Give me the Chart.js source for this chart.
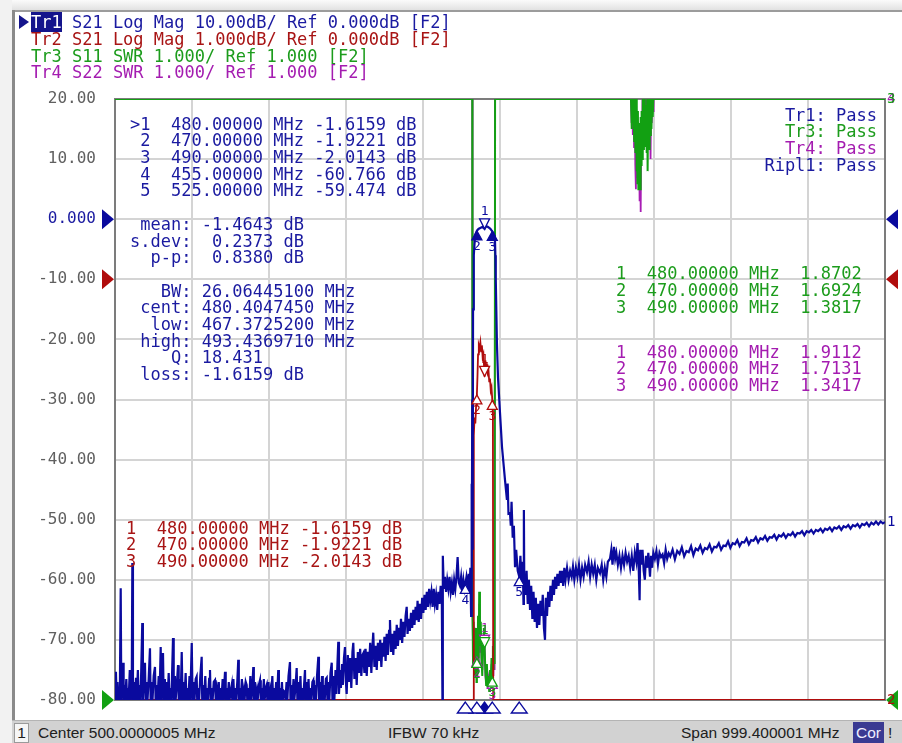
<!DOCTYPE html>
<html>
<head>
<meta charset="utf-8">
<title>S21 / SWR sweep</title>
<script src="https://cdn.jsdelivr.net/npm/chart.js@4.4.1/dist/chart.umd.min.js"></script>
<style>
  html, body { margin: 0; padding: 0; background: #fff; }
  body { width: 902px; height: 743px; position: relative; overflow: hidden; font-family: "DejaVu Sans Mono", monospace; }
  #plot { position: absolute; left: 0; top: 0; }
  .shade-top { position: absolute; left: 0; top: 0; width: 902px; height: 10px; background: linear-gradient(#fbfbfb, #e2e2e2); }
  .shade-left { position: absolute; left: 0; top: 0; width: 12px; height: 743px; background: #f2f2f2; }
  .edge-top { position: absolute; left: 12px; top: 10px; width: 890px; height: 2px; background: #9c9c9c; }
  .edge-left { position: absolute; left: 12px; top: 10px; width: 3px; height: 733px; background: #8a8a8a; }
  .txt { position: absolute; font-size: 17px; line-height: 16.7px; white-space: pre; }
  .blue { color: #1a1aa0; }
  .red { color: #a81414; }
  .green { color: #1c9c1c; }
  .magenta { color: #a41cb0; }
  .tag { background: #14148c; color: #fff; }
  .arrow { position: absolute; left: 19px; top: 15px; width: 0; height: 0;
           border-left: 10px solid #14148c; border-top: 7px solid transparent; border-bottom: 7px solid transparent; }
  .status { position: absolute; left: 12px; top: 720px; width: 890px; height: 23px; background: #d2d2d2; border-top: 1px solid #b4b4b4;
            font-family: "Liberation Sans", Arial, sans-serif; font-size: 15.5px; color: #202020; }
  .status span { position: absolute; top: 3px; white-space: pre; }
  .chan { position: absolute; left: 2px; top: 2px; width: 13px; height: 18px; background: #f6f6f6; border: 1px solid #9a9a9a;
          text-align: center; line-height: 18px; }
  .cor { position: absolute; left: 841px; top: 1px; width: 31px; height: 21px; background: #3a3a92; color: #eef;
         text-align: center; line-height: 21px; }
</style>
</head>
<body>
<div class="shade-top"></div>
<div class="shade-left"></div>
<canvas id="plot" width="902" height="743"></canvas>
<div class="edge-top"></div>
<div class="edge-left"></div>

<div class="arrow"></div>
<div class="txt" style="left:31px; top:14px; line-height:16.8px;"><span class="blue"><span class="tag">Tr1</span> S21 Log Mag 10.00dB/ Ref 0.000dB [F2]</span>
<span class="red">Tr2 S21 Log Mag 1.000dB/ Ref 0.000dB [F2]</span>
<span class="green">Tr3 S11 SWR 1.000/ Ref 1.000 [F2]</span>
<span class="magenta">Tr4 S22 SWR 1.000/ Ref 1.000 [F2]</span></div>

<div class="txt blue" id="tr1Table" style="left:130px; top:115.6px;"></div>
<div class="txt red" id="tr2Table" style="left:126px; top:519.6px;"></div>
<div class="txt green" id="tr3Table" style="left:616px; top:264.6px; line-height:17px;"></div>
<div class="txt magenta" id="tr4Table" style="left:616px; top:343.6px; line-height:16.6px;"></div>
<div class="txt" id="limits" style="right:25px; top:106.6px; text-align:right;"></div>

<div class="status">
  <div class="chan">1</div>
  <span style="left:26px;">Center 500.0000005 MHz</span>
  <span style="left:376px;">IFBW 70 kHz</span>
  <span style="left:669px;">Span 999.400001 MHz</span>
  <div class="cor">Cor</div>
  <span style="left:876px;">!</span>
</div>

<script>
const BLUE = "#0a0a9e";
const RED = "#b00c0c";
const GREEN = "#12a012";
const MAGENTA = "#a81cb4";
const GRID = "#d4d4d4";

// sweep: 0.3 .. 999.7 MHz, 10 divisions
const freqStart = 0.3;
const freqStop = 999.7;
const freqGrid = [0.3, 100.24, 200.18, 300.12, 400.06, 500.0, 599.94, 699.88, 799.82, 899.76, 999.7];
const dbTicks = [-80, -70, -60, -50, -40, -30, -20, -10, 0, 10, 20];
const dbTickLabels = ["-80.00", "-70.00", "-60.00", "-50.00", "-40.00", "-30.00", "-20.00", "-10.00", "0.000", "10.00", "20.00"];

// Tr1 S21 log mag [MHz, dB] (values under -80 sit on the bottom line)
const tr1 = [
  [0.3,-80],[1.5,-75.3],[2.5,-80],[3.5,-77],[4.5,-80],[5.5,-78],[6.5,-80],[7.7,-61.4],[8.5,-80],[9.5,-76],[10.7,-73.8],[11.5,-80],
  [12.5,-77.5],[13.5,-80],[15,-76.5],[16,-80],[17,-78],[18,-80],[19.5,-75],[20.5,-80],[22,-79],[22.8,-57.2],[23.6,-80],[25,-77],
  [26,-80],[27.6,-76.3],[28.5,-80],[30,-75],[31,-80],[32.5,-77.5],[33.5,-80],[35.7,-67.2],[36.5,-80],[38,-76],[39.2,-73.8],[40,-80],
  [41.5,-77],[42.5,-80],[44,-76.5],[45.7,-71.4],[46.5,-80],[48,-77],[49,-80],[50.5,-76],[52.2,-74.5],[53,-80],[54.5,-77.5],[55.5,-80],
  [57,-76],[58,-80],[59.6,-71.2],[60.5,-80],[62.6,-72.2],[63.5,-80],[65,-76.5],[66,-80],[67.5,-77],[68.5,-80],[70,-75.5],[71,-80],
  [72.5,-78],[73.5,-80],[75.6,-69.7],[76.5,-80],[78,-76],[79,-80],[80.5,-77.5],[82.1,-74.2],[83,-80],[84.5,-76.5],[85.5,-80],[86.9,-72],
  [88,-80],[89.5,-77],[90.5,-80],[92,-75.5],[93,-80],[94.5,-78],[95.5,-80],[97,-76],[98,-80],[99.9,-70.5],[101,-80],[102.5,-77],
  [103.5,-80],[105,-76.5],[106.3,-76.1],[107,-80],[108.5,-78],[109.5,-80],[111,-76],[112.8,-72.8],[113.5,-80],[115,-77.5],[116,-80],
  [117.5,-76],[118.5,-80],[120,-78],[121,-80],[122.5,-76.5],[123.6,-75],[124.5,-80],[126,-78],[127,-80],[128.5,-77],[130.1,-76.7],
  [131,-80],[132.5,-78.5],[133.5,-80],[135,-77],[136,-80],[137.5,-78],[138.5,-80],[140,-76.5],[141,-80],[143.1,-75.3],[144,-80],
  [145.5,-78],[146.5,-80],[148,-77],[149,-80],[150.5,-78.5],[151.8,-77.5],[152.5,-80],[154,-76.5],[155,-80],[156.5,-78],[157.5,-80],
  [159,-77],[160.3,-73.3],[161,-80],[162.5,-78],[163.5,-80],[165,-76.5],[166,-80],[167.5,-78.5],[168.5,-80],[170,-77],[171.2,-77.5],
  [172,-80],[173.5,-78],[174.5,-80],[176,-76],[177,-80],[178.5,-78],[179.8,-74.5],[180.5,-80],[182,-77],[183,-80],[184.5,-78.5],
  [185.5,-80],[187,-77.5],[188.5,-76.7],[189.5,-80],[191,-78],[192,-80],[193.5,-76.5],[194.5,-80],[196,-78],[197.2,-77.5],[198,-80],
  [199.5,-77],[200.5,-80],[202,-78.5],[203,-80],[204.5,-76],[205.5,-80],[207,-78],[208,-80],[209.5,-77],[210.5,-80],[212.2,-75],
  [213,-80],[214.5,-78],[215.5,-80],[217,-77],[218,-80],[219.5,-78.5],[220.9,-78.7],[221.5,-80],[223,-77],[224,-80],[225.5,-76],
  [227.4,-73.7],[228,-80],[229.5,-77.5],[230.5,-80],[232,-76.5],[233,-80],[234.5,-78],[236.1,-74.7],[237,-80],[238.5,-77],[239.5,-80],
  [241,-76],[242,-80],[243.5,-78],[244.5,-80],[246.9,-75],[247.5,-80],[249,-77],[250,-80],[251.5,-76.5],[252.5,-80],[254,-78],
  [255,-80],[256.5,-77],[257.7,-76.7],[258.5,-80],[260,-77.5],[261,-80],[262.5,-76],[264.2,-72.8],[265,-80],[266.5,-77],[267.5,-80],
  [269,-76],[270,-80],[271.5,-77.5],[272.5,-80],[274,-76.5],[275.1,-76.3],[276,-80],[277.5,-77],[278.5,-80],[280,-75.5],[281.6,-73.8],
  [282.5,-80],[284,-76],[285,-80],[286.5,-75],[287.5,-79],[289,-74],[290.1,-70.3],[291,-79],[292.5,-75],[293.5,-78],[295,-74],
  [296,-77.5],[297.5,-73],[298.8,-71.2],[300,-77],
  [301,-79],[302.5,-72.5],[304,-77],[305.5,-73],[307,-78],[308.5,-72],[309.6,-70.5],[311,-76.5],[312.5,-73],[314,-77.5],[315.5,-72],
  [317,-75.5],[318.5,-71.5],[320,-76],[321.5,-72.5],[322.6,-72.2],[324,-75.5],[325.5,-71.5],[327,-76],[328.5,-72],[330,-74.5],
  [331.5,-70.5],[333,-75.5],[334.5,-71],[335.5,-68.8],[337,-74.5],[338.5,-71],[340,-75],[341.5,-70.5],[343,-73.5],[344.5,-70],
  [346,-74.5],[347.5,-70.5],[348.5,-72.8],[350,-69.5],[351.5,-73.5],[353,-69],[354.5,-72.5],[356,-68.5],[357.2,-66.7],[358.5,-72],
  [360,-69],[361.5,-72.5],[363,-68.5],[364.5,-71.5],[366,-67.5],[367.5,-71],[369,-68],[370.2,-70],[371.5,-66.5],[373,-70.5],
  [374.5,-67],[376,-69.5],[377.5,-66],[378.9,-64.5],[380,-69],[381.5,-66.5],[383,-68.5],[384.5,-65.5],[386,-68],[387.5,-65],
  [389,-67.5],[390.5,-64.5],[391.9,-66.7],[393,-63.5],[394.5,-67],[396,-64],[397.5,-66.5],[399,-63],[400.5,-65.5],[402,-62.5],
  [403.5,-65],[405,-62],[406.5,-64.5],[408,-61.5],[409.5,-63.5],[411,-62],[412.5,-64.5],[414,-61.5],[415.5,-64],[417,-62.5],
  [418.5,-65],[420,-62],[421.5,-64],[423,-61],[424.5,-63.5],[425.3,-80],[425.8,-56],[427,-61.5],[428.5,-59.5],[430,-62],
  [431.5,-60],[433,-61.5],[434.5,-59.5],[436,-62],[437.5,-60.5],[439,-62.5],[440.5,-60],[442,-61.5],[443.5,-59.5],[445,-56.2],
  [446.5,-60.5],[448,-61],[449.5,-59.5],[451,-62],[452.5,-60],[454,-61.5],[455,-60.8],[456.5,-59.5],[458,-61],[459.5,-59],
  [460.5,-62],[461.5,-58],[462.5,-66],[463,-44],[463.5,-62],[464,-30],[464.5,-55],[465,-15],[466,-6],[467.4,-3.1],
  [468.5,-2.4],[470,-1.92],[471.5,-1.7],[473,-1.55],[474.5,-1.45],[476,-1.35],[477.5,-1.3],[479,-1.5],[480,-1.62],[481.5,-1.25],
  [483,-1.2],[484.5,-1.3],[486,-1.45],[487.5,-1.6],[489,-1.85],[490,-2.01],[491.5,-2.3],[492.5,-2.7],[493.4,-3.1],[494,-6],
  [494.5,-10],[496,-20.6],[497.4,-26.3],[500,-32.2],[502.6,-37.9],[506.5,-43.4],[509,-46.7],[510,-44],[511,-49],[513,-48.9],
  [514,-51],[515,-47],[516.5,-53],[518,-51],[519.5,-57.9],[521,-55],[523,-58.5],[525,-59.47],[526.5,-56],[528,-61],[529.5,-57],
  [530.5,-64],[531,-48.4],[531.5,-60],[533,-62.5],[534.5,-58.5],[536,-64],[537.5,-60],[539,-65],[540.5,-61],[542,-66.5],
  [543.5,-62],[545,-67],[546.5,-63],[548,-68],[549.5,-64],[551,-67.5],[552.5,-63.5],[554,-66],[555.5,-62.5],[557,-68],[558.4,-70],
  [559.5,-63],[561,-66],[562.5,-62],[564,-64.5],[565.5,-61],[567,-63.5],[568.8,-60],[570,-62.5],[571.5,-59.5],[573,-61.5],
  [574.5,-59],[576,-61],[577.9,-58.5],[579,-60.5],[580.5,-58.5],[582,-61],[583.5,-58],[585,-60],[587,-58],[589,-60],[591,-58.5],
  [593,-59.5],[594.7,-57.8],[596.5,-60],[598.5,-58],[600.5,-59.5],[602.5,-57.5],[604.5,-60],[606.5,-58],[608.5,-59.5],[610.5,-57.5],
  [612.9,-58.7],[615,-57],[617,-59.5],[619,-57.5],[621,-59],[623,-57.5],[625,-60],[627,-58],[629.8,-58.9],[632,-57.5],[634,-60],
  [636,-58],[638,-59.5],[640,-57],[642.8,-56.5],[644.5,-55],[646,-57.5],[648,-54.5],[649.5,-56.5],[651,-55.5],[653,-57.5],[655,-56],
  [657,-58],[659,-56],[661,-57.5],[663,-55.5],[665,-57],[667,-56],[669,-58],[671,-56],[673,-58.5],[675,-55.5],[677,-57],[678.5,-53.9],
  [680,-58],[681.2,-63.4],[682,-55],[683.5,-57.5],[685,-55],[686.5,-58.5],[688,-60],[689.5,-56],[691,-58],[692.5,-55.5],[694.7,-59.5],
  [696,-56],[697.5,-58],[699,-55.5],[701,-56.5],[703,-55.2],[705,-57.4],[707,-55.5],[709,-56.2],[711,-55.8],[713,-57.2],[715,-55],
  [717,-56.5],[719,-55.6],[721,-56.1],[724,-55],[727,-56.6],[730,-55.2],[733,-55.7],[736,-54.6],[739,-56.1],[742,-55.2],[745,-55.4],
  [748,-54.4],[751,-55.9],[754,-54.8],[757,-55.1],[760,-54.3],[763,-55.5],[766,-54.7],[769,-54.9],[772,-54.1],[775,-55.3],[778,-54.5],
  [781,-54.6],[784,-53.9],[787,-55],[790,-54.3],[793,-54.4],[796,-53.6],[799,-54.7],[802,-53.9],[805,-54.1],[808,-53.4],[811,-54.4],
  [814,-53.7],[817,-53.8],[820,-53.1],[823,-54.1],[826,-53.4],[829,-53.5],[832,-52.9],[835,-53.8],[838,-53.1],[841,-53.3],[844,-52.7],
  [847,-53.5],[850,-52.9],[853,-53],[856,-52.5],[859,-53.3],[862,-52.6],[865,-52.8],[868,-52.3],[871,-53],[874,-52.4],[877,-52.6],
  [880,-52.1],[883,-52.8],[886,-52.2],[889,-52.3],[892,-51.9],[895,-52.6],[898,-51.9],[901,-52.1],[904,-51.7],[907,-52.3],[910,-51.7],
  [913,-51.9],[916,-51.5],[919,-52.1],[922,-51.5],[925,-51.7],[928,-51.3],[931,-51.9],[934,-51.3],[937,-51.5],[940,-51.1],[943,-51.7],
  [946,-51.1],[949,-51.3],[952,-50.9],[955,-51.5],[958,-50.9],[961,-51.1],[964,-50.7],[967,-51.3],[970,-50.7],[973,-50.9],[976,-50.5],
  [979,-51.1],[982,-50.5],[985,-50.8],[988,-50.3],[991,-50.8],[994,-50.3],[997,-50.6],[999.7,-50.4]
];

// Tr2 S21 log mag, 1 dB/div [MHz, dB] (bottom of its scale is -7 dB)
const tr2 = [
  [0.3,-7],[465.5,-7],[466,-2.6],[467,-2.3],[468,-2.4],[469,-2.1],[470,-1.92],[470.8,-1.6],[471.5,-1.25],[472.5,-1.1],
  [473.5,-1.15],[474.5,-1.05],[475.5,-1.2],[476.5,-1.1],[477.5,-1.3],[478.5,-1.25],[479.3,-1.45],[480,-1.62],[481,-1.35],
  [482,-1.45],[483,-1.4],[484,-1.55],[485,-1.5],[486,-1.7],[487,-1.65],[488,-1.85],[489,-1.8],[490,-2.01],[490.8,-2.3],
  [491.2,-7],[999.7,-7]
];

// Tr3 S11 SWR [MHz, SWR] (top of its scale is 11)
const tr3 = [
  [0.3,11],[464,11],[464.3,2.6],[465,1.6],[465.8,2.3],[466.5,1.4],[467.3,2.0],[468,1.5],[468.8,2.2],[469.5,1.3],[470,1.69],
  [470.8,1.5],[471.5,2.4],[472.3,1.6],[473,2.8],[474,1.9],[475,2.3],[476,1.7],[477,1.4],[478,1.9],[479,2.2],[480,1.87],[481,1.5],
  [482,1.25],[483,1.6],[484,1.2],[485,1.4],[486,1.15],[487,1.5],[488,1.3],[489,1.7],[490,1.38],[490.8,1.9],[491.5,1.5],[492.3,2.1],
  [493,1.6],[493.6,11],
  [670,11],[671,10.5],[671.8,11],[672.6,10.6],[673.4,11],[674.2,10.3],[675,11],[675.8,10.1],[676.6,11],[677.2,9.8],[677.8,10.9],
  [678.4,9.6],[679,10.8],[679.6,9.5],[680.2,10.6],[680.8,9.6],[681.4,10.4],[682,9.5],[682.6,10.7],[683.2,9.9],[683.8,10.8],
  [684.4,10],[685,11],[685.6,10.2],[686.2,11],[686.8,10.15],[687.4,11],[688,10.2],[688.6,10.9],[689.2,10.3],[689.8,10.8],
  [690.4,10.1],[691,11],[691.6,9.8],[692.2,10.8],[692.8,10.2],[693.4,11],[694,10.15],[694.6,11],[695.2,10.4],[695.8,11],
  [696.6,10.5],[697.4,11],[698.2,10.7],[699,11],[999.7,11]
];

// Tr4 S22 SWR [MHz, SWR]
const tr4 = [
  [0.3,11],[464,11],[464.4,2.4],[465.2,1.7],[466,2.1],[466.8,1.5],[467.6,2.2],[468.4,1.4],[469.2,2.0],[470,1.71],[470.8,1.4],
  [471.6,2.2],[472.4,1.7],[473.2,2.6],[474.2,1.8],[475.2,2.1],[476.2,1.6],[477.2,1.5],[478.2,2.0],[479.2,2.1],[480,1.91],[481,1.4],
  [482,1.3],[483,1.5],[484,1.25],[485,1.35],[486,1.2],[487,1.45],[488,1.25],[489,1.6],[490,1.34],[490.8,1.8],[491.5,1.4],
  [492.3,2.0],[493,1.5],[493.6,11],
  [670,11],[670.8,10.6],[671.6,11],[672.4,10.4],[673.2,11],[674,10.2],[674.8,11],[675.6,9.9],[676.4,9.5],[677.2,10.8],[678,9.7],
  [678.8,10.6],[679.6,9.6],[680.4,10.5],[681.2,9.3],[682,10.2],[682.6,9.12],[683.4,10.6],[684.2,10],[685,11],[685.8,10.3],
  [686.6,11],[687.4,10.4],[688.2,11],[689,10.5],[689.8,11],[690.6,10.3],[691.4,11],[692.2,10.2],[693,10.9],[693.8,10.4],
  [694.6,11],[695.4,10.0],[696.2,11],[697,10.6],[697.8,11],[698.6,10.8],[699.4,11],[999.7,11]
];

// markers
const markerFreqs = [480, 470, 490, 455, 525];
const tr1MarkerDb = [-1.6159, -1.9221, -2.0143, -60.766, -59.474];
const tr2MarkerDb = [-1.6159, -1.9221, -2.0143];
const tr3MarkerSwr = [1.8702, 1.6924, 1.3817];
const tr4MarkerSwr = [1.9112, 1.7131, 1.3417];

const tr1Stats = [
  " mean: -1.4643 dB",
  "s.dev:  0.2373 dB",
  "  p-p:  0.8380 dB",
  "",
  "   BW: 26.06445100 MHz",
  " cent: 480.4047450 MHz",
  "  low: 467.3725200 MHz",
  " high: 493.4369710 MHz",
  "    Q: 18.431",
  " loss: -1.6159 dB",
];
const limitTests = ["Tr1: Pass", "Tr3: Pass", "Tr4: Pass", "Ripl1: Pass"];
const limitColors = ["blue", "green", "magenta", "blue"];

// marker tables
function markerRow(i, active, v, unit) {
  const head = active ? (i === 0 ? ">" : " ") : "";
  const val = v < 0 ? v.toPrecision(5) : " " + v.toPrecision(5);
  return `${head}${i + 1}  ${markerFreqs[i].toFixed(5)} MHz ${val}${unit}`;
}
document.getElementById("tr1Table").textContent =
  tr1MarkerDb.map((v, i) => markerRow(i, true, v, " dB")).concat([""], tr1Stats).join("\n");
document.getElementById("tr2Table").textContent = tr2MarkerDb.map((v, i) => markerRow(i, false, v, " dB")).join("\n");
document.getElementById("tr3Table").textContent = tr3MarkerSwr.map((v, i) => markerRow(i, false, v, "")).join("\n");
document.getElementById("tr4Table").textContent = tr4MarkerSwr.map((v, i) => markerRow(i, false, v, "")).join("\n");
document.getElementById("limits").innerHTML =
  limitTests.map((t, i) => `<span class="${limitColors[i]}">${t}</span>`).join("\n");

function toXY(points) {
  return points.map(([x, y]) => ({ x, y }));
}

function triangle(ctx, x, tipY, dir, half, h, color, filled) {
  // dir 1: pointing down (tip at bottom), -1: pointing up
  ctx.beginPath();
  ctx.moveTo(x, tipY);
  ctx.lineTo(x - half, tipY - dir * h);
  ctx.lineTo(x + half, tipY - dir * h);
  ctx.closePath();
  ctx.fillStyle = filled ? color : "#fff";
  ctx.fill();
  ctx.strokeStyle = color;
  ctx.lineWidth = 1.3;
  ctx.stroke();
}

function sideArrow(ctx, x, y, dir, color) {
  // dir 1: points right, -1: points left
  ctx.beginPath();
  ctx.moveTo(x, y);
  ctx.lineTo(x - dir * 12, y - 10);
  ctx.lineTo(x - dir * 12, y + 10);
  ctx.closePath();
  ctx.fillStyle = color;
  ctx.fill();
}

const framePlugin = {
  id: "frame",
  beforeDatasetsDraw(chart) {
    const { ctx, chartArea: a } = chart;
    ctx.save();
    ctx.strokeStyle = "#7c7c7c";
    ctx.lineWidth = 2;
    ctx.strokeRect(a.left, a.top, a.right - a.left, a.bottom - a.top);
    ctx.restore();
  },
};

const markerPlugin = {
  id: "markers",
  afterDatasetsDraw(chart) {
    const { ctx, chartArea: a, scales } = chart;
    const fx = (f) => scales.x.getPixelForValue(f);
    ctx.save();
    ctx.font = "13px 'DejaVu Sans Mono'";
    ctx.textAlign = "center";
    ctx.textBaseline = "middle";

    const sets = [
      { vals: tr4MarkerSwr, axis: "y3", color: MAGENTA },
      { vals: tr3MarkerSwr, axis: "y3", color: GREEN },
      { vals: tr2MarkerDb, axis: "y2", color: RED },
      { vals: tr1MarkerDb, axis: "y", color: BLUE },
    ];
    for (const s of sets) {
      s.vals.forEach((v, i) => {
        const x = fx(markerFreqs[i]);
        const y = scales[s.axis].getPixelForValue(v);
        if (i === 0) {
          triangle(ctx, x, y, 1, 5, 10, s.color, false);
          ctx.fillStyle = s.color;
          ctx.fillText(String(i + 1), x, y - 17);
        } else {
          triangle(ctx, x, y, -1, 5, 9, s.color, s.axis === "y" && i < 3);
          ctx.fillStyle = s.color;
          ctx.fillText(String(i + 1), x, y + 16);
        }
      });
    }

    // stimulus markers under the grid
    markerFreqs.forEach((f, i) => {
      triangle(ctx, fx(f), a.bottom + 2, -1, 8, 11, BLUE, i === 0);
    });

    // reference position arrows
    const refs = [
      { y: scales.y.getPixelForValue(0), color: BLUE },
      { y: scales.y2.getPixelForValue(0), color: RED },
      { y: scales.y3.getPixelForValue(1), color: GREEN },
    ];
    for (const r of refs) {
      sideArrow(ctx, a.left - 1, r.y, 1, r.color);
      sideArrow(ctx, a.right + 1, r.y, -1, r.color);
    }

    // trace numbers at the right edge
    ctx.font = "14px 'DejaVu Sans Mono'";
    ctx.textAlign = "left";
    const ends = [
      { pts: tr4, axis: "y3", color: MAGENTA, n: "4" },
      { pts: tr3, axis: "y3", color: GREEN, n: "3" },
      { pts: tr2, axis: "y2", color: RED, n: "2" },
      { pts: tr1, axis: "y", color: BLUE, n: "1" },
    ];
    for (const e of ends) {
      const last = e.pts[e.pts.length - 1][1];
      ctx.fillStyle = e.color;
      ctx.fillText(e.n, a.right + 2, scales[e.axis].getPixelForValue(last));
    }
    ctx.restore();
  },
};

function traceDataset(label, points, axis, color, width) {
  return {
    label,
    data: toXY(points),
    yAxisID: axis,
    borderColor: color,
    borderWidth: width,
    pointRadius: 0,
    tension: 0,
    fill: false,
  };
}

new Chart(document.getElementById("plot"), {
  type: "line",
  data: {
    datasets: [
      traceDataset("Tr1", tr1, "y", BLUE, 2.2),
      traceDataset("Tr2", tr2, "y2", RED, 1.8),
      traceDataset("Tr3", tr3, "y3", GREEN, 2),
      traceDataset("Tr4", tr4, "y3", MAGENTA, 1.8),
    ],
  },
  options: {
    animation: false,
    responsive: false,
    events: [],
    layout: { padding: { left: 0, top: 99, right: 17, bottom: 43 } },
    plugins: { legend: { display: false }, tooltip: { enabled: false } },
    scales: {
      x: {
        type: "linear",
        min: freqStart,
        max: freqStop,
        afterBuildTicks: (scale) => { scale.ticks = freqGrid.map((value) => ({ value })); },
        afterFit: (scale) => { scale.height = 0; },
        ticks: { display: false },
        grid: { color: GRID, lineWidth: 2, drawTicks: false },
        border: { display: false },
      },
      y: {
        min: -80,
        max: 20,
        afterBuildTicks: (scale) => { scale.ticks = dbTicks.map((value) => ({ value })); },
        afterFit: (scale) => { scale.width = 115; },
        ticks: {
          padding: 19,
          font: { family: "DejaVu Sans Mono", size: 16 },
          color: (c) => (c.tick && c.tick.value === 0 ? "#1a1aa0" : "#606060"),
          callback: (value, index) => dbTickLabels[index],
          autoSkip: false,
        },
        grid: { color: GRID, lineWidth: 2, drawTicks: false },
        border: { display: false },
      },
      y2: { display: false, min: -7, max: 3 },
      y3: { display: false, min: 1, max: 11 },
    },
  },
  plugins: [framePlugin, markerPlugin],
});
</script>
</body>
</html>
